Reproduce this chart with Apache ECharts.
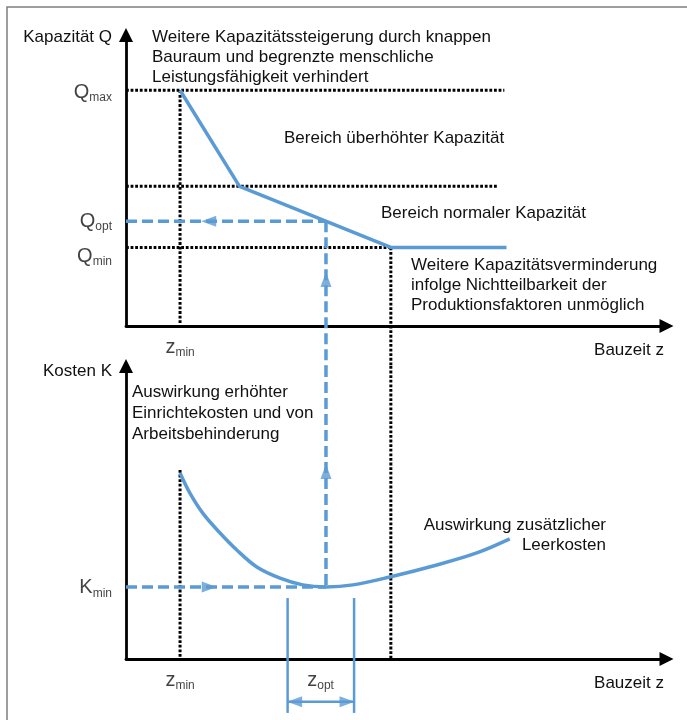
<!DOCTYPE html>
<html>
<head>
<meta charset="utf-8">
<script src="https://cdn.jsdelivr.net/npm/echarts@6/dist/echarts.min.js"></script>
<style>
  html, body { margin: 0; padding: 0; background: #fff; }
  #chart { width: 687px; height: 720px; }
</style>
</head>
<body>
<div id="chart"></div>
<script>
// capacity curve (top): z vs Q
const capacityLine = [[10, 81], [21, 48], [49, 27], [70.4, 27]];
// cost curve (bottom): z vs K
const costCurve = [
  [10, 63.5], [11.8, 56.7], [14.2, 49.8], [17.4, 43], [20.5, 37.2], [24.2, 31.4],
  [28.5, 27.6], [32.7, 25.3], [37, 24.6], [42, 25.3], [48.8, 28], [57.5, 32.1],
  [64.9, 36.2], [71, 41]
];
const zMin = 10, zOpt = 37, zLimit = 49;
const qMax = 81, qMid = 48, qOpt = 36, qMin = 27, kMin = 24.6;
const zOptBand = [29.9, 42.2];

// tick-style labels
const capTicks = [["Q", "max", qMax], ["Q", "opt", qOpt], ["Q", "min", qMin]];
const costTicks = [["K", "min", kMin]];

// small vertical nudges of the tick labels, as placed in the original
const labelNudge = { max: 2, opt: 0, min: 9, Kmin: 1 };

const blue = "#5b9bd5";
const chartDom = document.getElementById("chart");
const myChart = echarts.init(chartDom);

const dotted = { color: "#000", width: 3, type: [2.8, 1.8], cap: "butt" };
const dashed = { color: blue, width: 3.5, type: [11, 5], cap: "butt" };
const solid = { color: blue, width: 3.5 };

const seg = (grid, data, lineStyle, extra) =>
  Object.assign({
    type: "line",
    xAxisIndex: grid,
    yAxisIndex: grid,
    data: data,
    showSymbol: false,
    symbol: "none",
    clip: false,
    silent: true,
    lineStyle: lineStyle,
  }, extra || {});

const arrow = (grid, pt, rotate) => ({
  type: "scatter",
  xAxisIndex: grid,
  yAxisIndex: grid,
  symbol: "triangle",
  symbolSize: [11, 15],
  symbolRotate: rotate,
  clip: false,
  silent: true,
  itemStyle: { color: blue },
  data: [pt],
  z: 5,
});

const subRich = {
  b: { fontSize: 20, color: "#111", fontFamily: "Liberation Sans" },
  s: { fontSize: 12, color: "#111", fontFamily: "Liberation Sans", padding: [11, 0, 0, 0] },
};

const tickLabels = (grid, ticks) => ({
  type: "scatter",
  xAxisIndex: grid,
  yAxisIndex: grid,
  symbolSize: 0,
  clip: false,
  silent: true,
  data: ticks.map((t) => {
    const key = t[0] === "K" ? "Kmin" : t[1];
    return {
      value: [0, t[2]],
      name: t[0],
      sub: t[1],
      label: { offset: [0, labelNudge[key]] },
    };
  }),
  label: {
    show: true,
    position: "left",
    distance: 14,
    formatter: (p) => "{b|" + p.data.name + "}{s|" + p.data.sub + "}",
    rich: subRich,
  },
});

const xLabel = (grid, x, main, sub) => ({
  type: "scatter",
  xAxisIndex: grid,
  yAxisIndex: grid,
  symbolSize: 0,
  clip: false,
  silent: true,
  data: [{ value: [x, 0], name: main, sub: sub }],
  label: {
    show: true,
    position: "bottom",
    distance: 10,
    formatter: (p) => "{b|" + p.data.name + "}{s|" + p.data.sub + "}",
    rich: subRich,
  },
});

const axisBase = {
  type: "value",
  min: 0,
  max: 100,
  axisLine: {
    show: true,
    symbol: ["none", "triangle"],
    symbolSize: [14, 14],
    lineStyle: { color: "#000", width: 2.8 },
  },
  axisTick: { show: false },
  axisLabel: { show: false },
  splitLine: { show: false },
};

const textStyle = (extra) =>
  Object.assign({ fill: "#111", font: "17px 'Liberation Sans'", lineHeight: 20 }, extra);

const option = {
  animation: false,
  grid: [
    { left: 126, right: 20.5, top: 35, height: 291 },
    { left: 126, right: 20.5, top: 366, height: 293 },
  ],
  xAxis: [
    Object.assign({ gridIndex: 0 }, axisBase),
    Object.assign({ gridIndex: 1 }, axisBase),
  ],
  yAxis: [
    Object.assign({ gridIndex: 0 }, axisBase),
    Object.assign({ gridIndex: 1 }, axisBase),
  ],
  series: [
    // top chart reference lines
    seg(0, [[0, qMax], [70, qMax]], dotted),
    seg(0, [[0, qMid], [68.8, qMid]], dotted),
    seg(0, [[0, qMin], [zLimit, qMin]], dotted),
    seg(0, [[zMin, qMax], [zMin, 0]], dotted),
    seg(0, [[zLimit, qMin], [zLimit, -14]], dotted),
    seg(0, [[0, qOpt], [zOpt, qOpt]], dashed),
    seg(0, [[zOpt, qOpt], [zOpt, -14]], dashed),
    seg(0, capacityLine, solid, { z: 4 }),
    arrow(0, [15.3, qOpt], 90),
    arrow(0, [zOpt, 16], 0),
    tickLabels(0, capTicks),
    xLabel(0, zMin, "z", "min"),
    // bottom chart
    seg(1, [[zMin, 64.5], [zMin, 0]], dotted),
    seg(1, [[zLimit, 100], [zLimit, 0]], dotted),
    seg(1, [[zOpt, 100], [zOpt, kMin]], dashed),
    seg(1, [[0, kMin], [zOpt, kMin]], dashed),
    seg(1, costCurve, solid, { smooth: 0.35, z: 4 }),
    arrow(1, [15.4, kMin], -90),
    arrow(1, [zOpt, 64], 0),
    seg(1, [[zOptBand[0], 20.8], [zOptBand[0], -18.4]], { color: blue, width: 2.5 }),
    seg(1, [[zOptBand[1], 20.8], [zOptBand[1], -18.4]], { color: blue, width: 2.5 }),
    seg(1, [[zOptBand[0], -14.6], [zOptBand[1], -14.6]], { color: blue, width: 2.5 }),
    arrow(1, [zOptBand[0] + 1.3, -14.6], 90),
    arrow(1, [zOptBand[1] - 1.3, -14.6], -90),
    tickLabels(1, costTicks),
    xLabel(1, zMin, "z", "min"),
    xLabel(1, 36, "z", "opt"),
  ],
  graphic: [
    {
      type: "rect",
      shape: { x: 7, y: 7, width: 720, height: 760 },
      style: { fill: "none", stroke: "#7f7f7f", lineWidth: 1.5 },
      silent: true,
    },
    { type: "text", right: 687 - 112, top: 27, style: textStyle({ text: "Kapazität Q" }) },
    { type: "text", right: 687 - 112, top: 361, style: textStyle({ text: "Kosten K" }) },
    {
      type: "text", left: 152, top: 27,
      style: textStyle({ text: "Weitere Kapazitätssteigerung durch knappen\nBauraum und begrenzte menschliche\nLeistungsfähigkeit verhindert" }),
    },
    { type: "text", left: 284, top: 128, style: textStyle({ text: "Bereich überhöhter Kapazität" }) },
    { type: "text", left: 381, top: 203, style: textStyle({ text: "Bereich normaler Kapazität" }) },
    {
      type: "text", left: 411, top: 255,
      style: textStyle({ text: "Weitere Kapazitätsverminderung\ninfolge Nichtteilbarkeit der\nProduktionsfaktoren unmöglich" }),
    },
    { type: "text", right: 687 - 664, top: 340, style: textStyle({ text: "Bauzeit z" }) },
    {
      type: "text", left: 132, top: 382,
      style: textStyle({ text: "Auswirkung erhöhter\nEinrichtekosten und von\nArbeitsbehinderung", lineHeight: 21 }),
    },
    { type: "text", right: 687 - 606, top: 515, style: textStyle({ text: "Auswirkung zusätzlicher" }) },
    { type: "text", right: 687 - 606, top: 535, style: textStyle({ text: "Leerkosten" }) },
    { type: "text", right: 687 - 664, top: 673, style: textStyle({ text: "Bauzeit z" }) },
  ],
};
myChart.setOption(option);
</script>
</body>
</html>
